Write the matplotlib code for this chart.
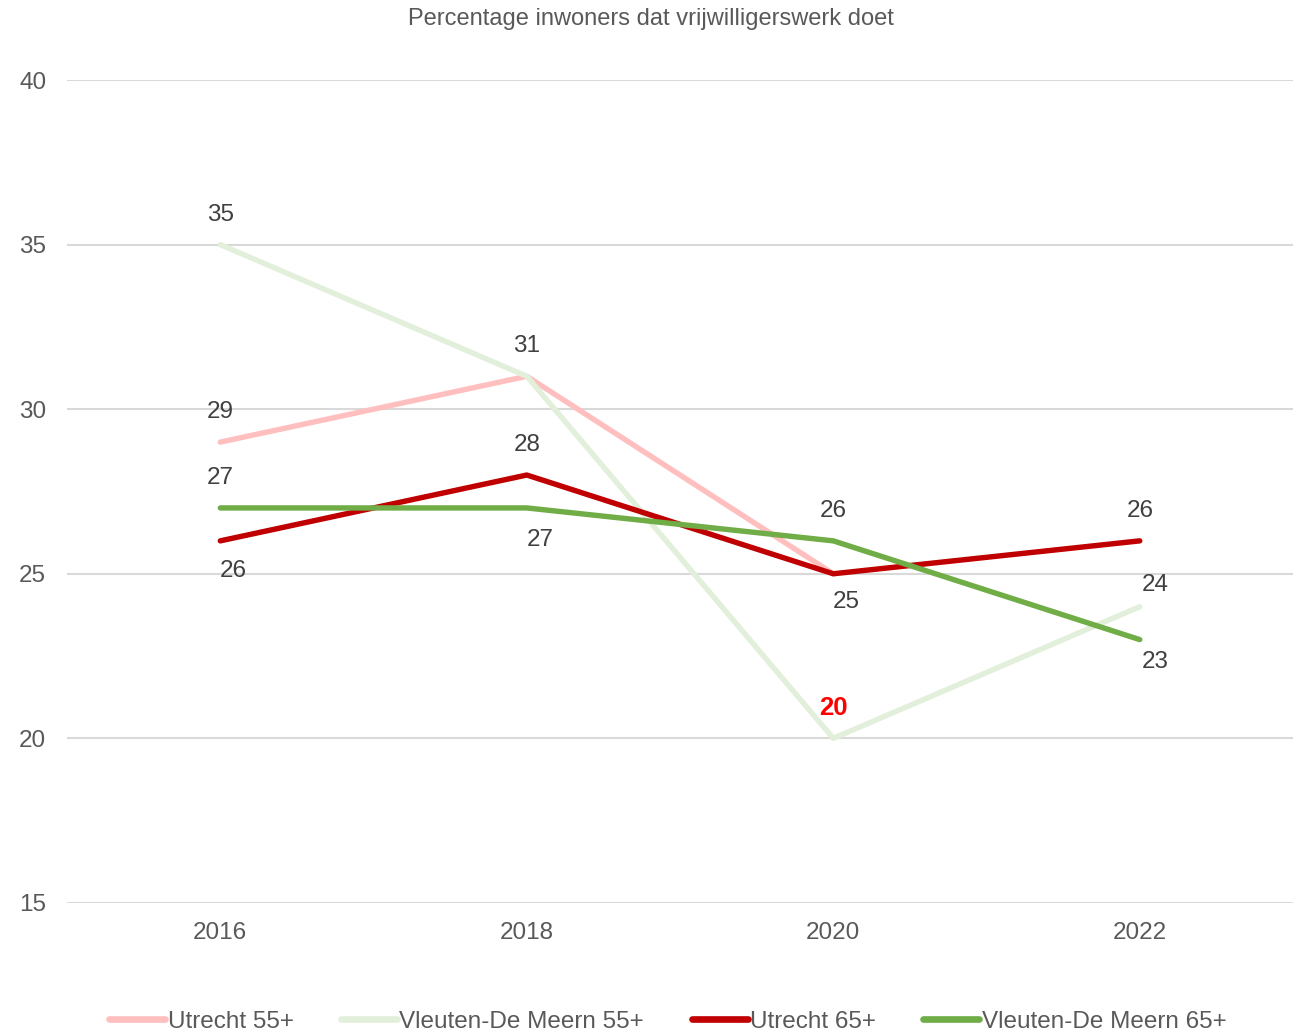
import numpy as np
import matplotlib
matplotlib.use("Agg")
import matplotlib.pyplot as plt

plt.rcParams['font.family'] = ['Liberation Sans', 'DejaVu Sans']

years = ["2016", "2018", "2020", "2022"]
series_names = ["Utrecht 55+", "Vleuten-De Meern 55+", "Utrecht 65+", "Vleuten-De Meern 65+"]
utrecht_55 = [29, 31, 25, np.nan]
vleuten_55 = [35, 31, 20, 24]
utrecht_65 = [26, 28, 25, 26]
vleuten_65 = [27, 27, 26, 23]
colors = ["#ffbfbf", "#e2efda", "#c00000", "#70ad47"]
yticks = [15, 20, 25, 30, 35, 40]

all_series = [utrecht_55, vleuten_55, utrecht_65, vleuten_65]

FS = 17.5
fig = plt.figure(figsize=(13.02, 10.31), dpi=100)
ax = fig.add_axes([0.0515, 0.1242, 0.9416, 0.7982])
x = np.arange(len(years))

for vals, c, name in zip(all_series, colors, series_names):
    ax.plot(x, vals, color=c, lw=3.9, label=name, solid_capstyle='round', solid_joinstyle='round')

ax.set_xlim(-0.5, len(years) - 0.5)
ax.set_ylim(15, 40)
ax.set_yticks(yticks)
ax.set_xticks(x)
ax.set_xticklabels(years)
ax.grid(axis='y', color='#d9d9d9', lw=1.5)
ax.set_axisbelow(True)
for s in ax.spines.values():
    s.set_visible(False)
ax.tick_params(axis='both', length=0, labelsize=FS, colors='#595959')
ax.tick_params(axis='x', pad=14)
ax.tick_params(axis='y', pad=15)

# label placement: (series index, point index, dx px, dy px, style)
placements = [
    (1, 0, 0, 30, 'n'), (0, 0, 0, 30, 'n'), (3, 0, 0, 30, 'n'), (2, 0, 13, -30, 'n'),
    (1, 1, 0, 30, 'n'), (2, 1, 0, 30, 'n'), (3, 1, 13, -32, 'n'),
    (3, 2, 0, 30, 'n'), (2, 2, 13, -28, 'n'), (1, 2, 0, 30, 'b'),
    (2, 3, 0, 30, 'n'), (1, 3, 15, 22, 'n'), (3, 3, 15, -22, 'n'),
]
for si, pi, dx, dy, st in placements:
    v = all_series[si][pi]
    if st == 'b':
        kw = dict(color='#ff0000', fontweight='bold', fontsize=18.5)
    else:
        kw = dict(color='#404040', fontsize=FS)
    ax.annotate(f"{v:g}", (x[pi], v), xytext=(dx, dy), textcoords='offset pixels',
                ha='center', va='center', **kw)

fig.text(0.5, 0.982, "Percentage inwoners dat vrijwilligerswerk doet", ha='center', va='center',
         fontsize=17, color='#595959')

leg = fig.legend(loc='center', bbox_to_anchor=(0.513, 0.009), ncol=4, frameon=False,
                 fontsize=FS, handlelength=2.3, handletextpad=0.1, columnspacing=1.95)
for t in leg.get_texts():
    t.set_color('#595959')
for h in leg.get_lines():
    h.set_linewidth(4.8)

fig.savefig("out.png", dpi=100)
